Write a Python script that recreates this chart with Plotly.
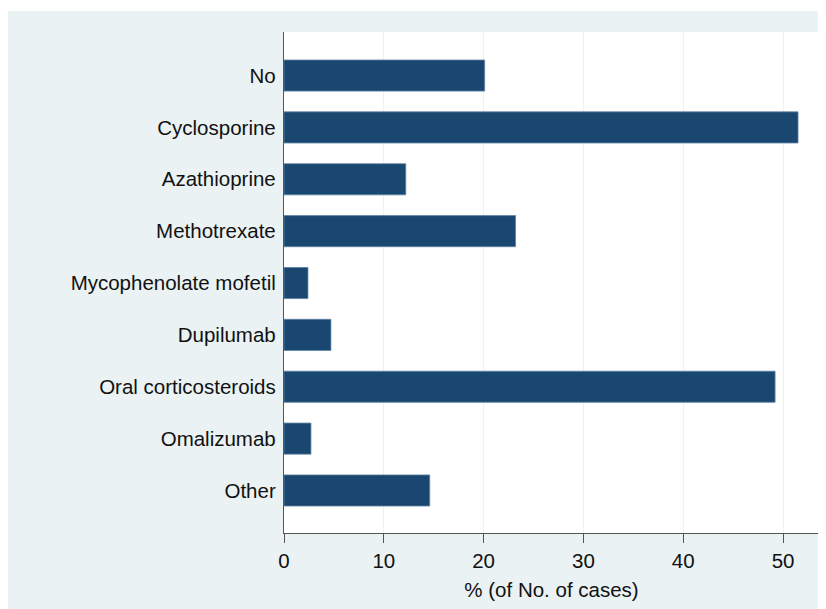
import plotly.graph_objects as go

categories = ["No", "Cyclosporine", "Azathioprine", "Methotrexate", "Mycophenolate mofetil",
              "Dupilumab", "Oral corticosteroids", "Omalizumab", "Other"]
values = [20.1, 51.5, 12.2, 23.2, 2.4, 4.7, 49.2, 2.7, 14.6]
x_ticks = [0, 10, 20, 30, 40, 50]

W, H = 826, 609
L, R, T, B = 276, 15, 24, 84
BG = "#eaf2f3"
pw, ph = W - L - R, H - T - B

fig = go.Figure(go.Bar(
    y=list(range(len(categories))), x=values, orientation="h",
    width=0.6,
    marker=dict(color="#1a476f", line=dict(color="#5f84a6", width=0.8)),
))

def py2y(py):
    return (H - B - py) / ph

fig.update_layout(
    width=W, height=H,
    margin=dict(l=L, r=R, t=T, b=B),
    paper_bgcolor=BG, plot_bgcolor="white",
    showlegend=False,
    font=dict(family="Liberation Sans, Arial, sans-serif", size=20.5, color="#111111"),
    shapes=[
        dict(type="rect", xref="paper", yref="paper", x0=-L / pw, x1=1 + R / pw,
             y0=py2y(3), y1=py2y(0), fillcolor="white", line=dict(width=0), layer="below"),
    ],
    xaxis=dict(
        range=[0, 53.6], tickvals=x_ticks, ticktext=[str(v) for v in x_ticks],
        showgrid=True, gridcolor=BG, gridwidth=1.2, zeroline=False,
        showline=True, linecolor="#555555", linewidth=1.3,
        ticks="outside", ticklen=9, tickcolor="#555555", tickwidth=1.3,
        ticklabelstandoff=0,
        title=dict(text="% (of No. of cases)", standoff=11, font=dict(size=20.5)),
        tickfont=dict(size=20.5),
    ),
    yaxis=dict(
        range=[len(categories) - 1 + 0.82, -0.84],
        tickvals=list(range(len(categories))), ticktext=categories,
        showgrid=False, zeroline=False,
        showline=True, linecolor="#555555", linewidth=1.3,
        ticks="", ticklabelstandoff=3,
        tickfont=dict(size=20.5),
    ),
)

fig.write_html("out.html")
